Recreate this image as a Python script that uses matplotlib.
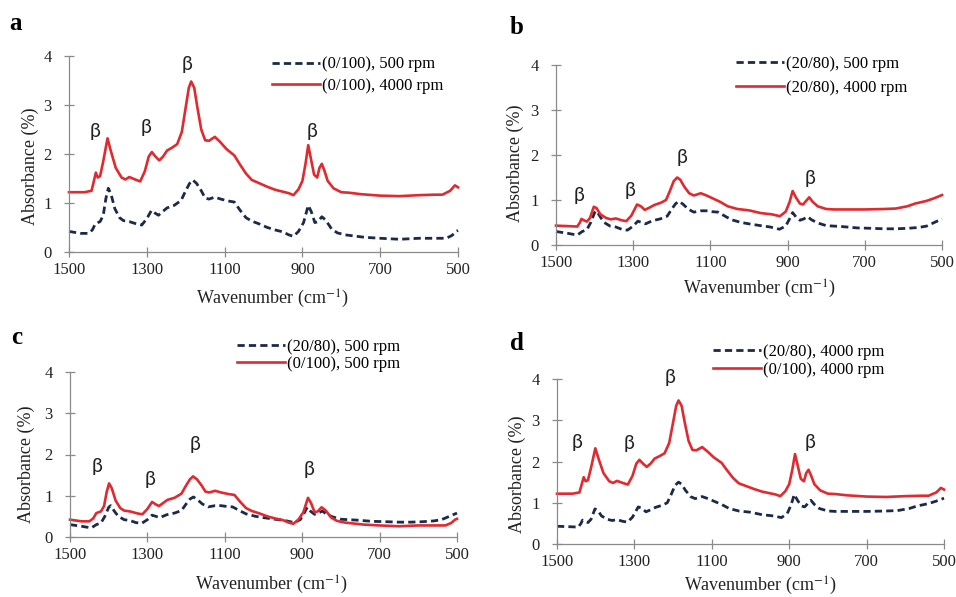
import matplotlib
matplotlib.use("Agg")
import matplotlib.pyplot as plt

plt.rcParams['font.family'] = ['Liberation Serif', 'DejaVu Serif']
plt.rcParams['mathtext.fontset'] = 'stix'

# ---------------- data ----------------
# (0/100), 4000 rpm
wn_p100_4000 = [1500, 1460, 1442, 1436, 1431, 1426, 1420, 1412, 1401, 1392, 1380, 1365, 1355, 1345,
                1330, 1317, 1305, 1295, 1287, 1278, 1268, 1258, 1248, 1235, 1222, 1210, 1200, 1192,
                1186, 1178, 1170, 1160, 1150, 1140, 1125, 1112, 1095, 1075, 1060, 1045, 1030, 1010,
                990, 970, 950, 935, 923, 910, 900, 892, 885, 878, 870, 862, 856, 850, 843, 835, 820,
                800, 780, 750, 700, 650, 600, 560, 540, 520, 508, 500]
ab_p100_4000 = [1.22, 1.22, 1.25, 1.45, 1.62, 1.52, 1.55, 1.85, 2.32, 2.05, 1.72, 1.52, 1.48, 1.53,
                1.48, 1.44, 1.65, 1.95, 2.04, 1.95, 1.87, 1.95, 2.07, 2.13, 2.20, 2.45, 2.95, 3.35,
                3.48, 3.35, 2.95, 2.50, 2.28, 2.27, 2.35, 2.25, 2.10, 1.97, 1.78, 1.60, 1.47, 1.40,
                1.33, 1.27, 1.23, 1.20, 1.16, 1.28, 1.45, 1.80, 2.18, 1.90, 1.58, 1.52, 1.72, 1.80,
                1.65, 1.45, 1.30, 1.22, 1.21, 1.18, 1.15, 1.14, 1.16, 1.17, 1.17, 1.25, 1.36, 1.32]

# (0/100), 500 rpm
wn_p100_500 = [1500, 1470, 1450, 1440, 1432, 1420, 1412, 1405, 1399, 1392, 1382, 1370, 1360, 1345,
               1325, 1313, 1300, 1288, 1280, 1270, 1260, 1248, 1230, 1212, 1200, 1190, 1182, 1172,
               1160, 1150, 1140, 1125, 1110, 1090, 1075, 1060, 1045, 1030, 1010, 990, 970, 950, 935,
               923, 910, 897, 885, 877, 868, 860, 850, 840, 825, 810, 790, 770, 740, 700, 650, 600,
               550, 530, 515, 505, 500]
ab_p100_500 = [0.42, 0.38, 0.38, 0.45, 0.58, 0.62, 0.75, 1.10, 1.30, 1.18, 0.88, 0.70, 0.64, 0.62,
               0.57, 0.55, 0.68, 0.85, 0.80, 0.75, 0.82, 0.90, 0.95, 1.05, 1.25, 1.40, 1.47, 1.40,
               1.25, 1.10, 1.08, 1.12, 1.08, 1.04, 1.02, 0.85, 0.70, 0.63, 0.57, 0.50, 0.45, 0.41, 0.35,
               0.32, 0.42, 0.60, 0.95, 0.82, 0.60, 0.62, 0.72, 0.65, 0.47, 0.39, 0.35, 0.33, 0.30, 0.28,
               0.26, 0.28, 0.28, 0.28, 0.34, 0.42, 0.44]

# (20/80), 4000 rpm
wn_p80_4000 = [1500, 1470, 1445, 1438, 1434, 1428, 1420, 1412, 1402, 1395, 1385, 1370, 1358, 1345,
               1330, 1318, 1305, 1290, 1280, 1270, 1258, 1245, 1228, 1215, 1205, 1195, 1186, 1178,
               1168, 1155, 1143, 1125, 1110, 1095, 1075, 1055, 1030, 1000, 970, 940, 920, 905, 895,
               887, 878, 868, 860, 850, 844, 835, 822, 800, 780, 740, 700, 650, 620, 590, 570, 540,
               520, 500]
ab_p80_4000 = [0.43, 0.42, 0.41, 0.50, 0.58, 0.55, 0.52, 0.60, 0.85, 0.82, 0.68, 0.60, 0.57, 0.59,
               0.55, 0.53, 0.65, 0.90, 0.86, 0.78, 0.83, 0.89, 0.94, 1.00, 1.20, 1.42, 1.50, 1.45,
               1.30, 1.15, 1.10, 1.15, 1.10, 1.04, 0.96, 0.86, 0.80, 0.77, 0.71, 0.68, 0.64, 0.74, 0.95,
               1.20, 1.05, 0.92, 0.90, 1.00, 1.06, 0.96, 0.86, 0.80, 0.79, 0.79, 0.79, 0.80, 0.81, 0.86,
               0.92, 0.98, 1.04, 1.11]

# (20/80), 500 rpm
wn_p80_500 = [1500, 1470, 1445, 1432, 1420, 1410, 1400, 1395, 1385, 1375, 1360, 1345, 1330, 1315,
              1300, 1288, 1278, 1268, 1250, 1230, 1212, 1200, 1190, 1181, 1170, 1158, 1143, 1125,
              1110, 1095, 1080, 1060, 1045, 1020, 1000, 970, 945, 921, 905, 895, 887, 878, 868, 858,
              848, 838, 822, 800, 760, 720, 680, 650, 620, 590, 560, 540, 520, 500]
ab_p80_500 = [0.30, 0.26, 0.22, 0.30, 0.34, 0.50, 0.72, 0.76, 0.62, 0.50, 0.42, 0.40, 0.35, 0.33,
              0.42, 0.53, 0.50, 0.47, 0.54, 0.58, 0.64, 0.80, 0.92, 0.97, 0.90, 0.80, 0.73, 0.76,
              0.76, 0.74, 0.73, 0.63, 0.56, 0.50, 0.47, 0.43, 0.40, 0.35, 0.42, 0.58, 0.72, 0.62, 0.55,
              0.58, 0.63, 0.56, 0.49, 0.43, 0.41, 0.38, 0.37, 0.36, 0.36, 0.37, 0.39, 0.42, 0.50, 0.58]

x_ticks = [1500, 1300, 1100, 900, 700, 500]
y_ticks = [0, 1, 2, 3, 4]

series = {
    'p100_4000': (wn_p100_4000, ab_p100_4000),
    'p100_500': (wn_p100_500, ab_p100_500),
    'p80_4000': (wn_p80_4000, ab_p80_4000),
    'p80_500': (wn_p80_500, ab_p80_500),
}

panels = [
    dict(letter='a', dashed=('p100_500', '(0/100), 500 rpm'), solid=('p100_4000', '(0/100), 4000 rpm'),
         rect_px=(69, 56, 458, 252), letter_px=(15, 24), leg_px=(272, 56.5), legsp=0.3,
         ylab=(-0.077, 0.44), xlab=(0.524, -0.184),
         betas=[(1433, 2.45), (1303, 2.55), (1197, 3.82), (874, 2.45)]),
    dict(letter='b', dashed=('p80_500', '(20/80), 500 rpm'), solid=('p80_4000', '(20/80), 4000 rpm'),
         rect_px=(556, 65, 942, 245), letter_px=(517, 28), leg_px=(736, 56), legsp=0.45,
         ylab=(-0.083, 0.455), xlab=(0.528, -0.183),
         betas=[(1440, 1.11), (1308, 1.21), (1174, 1.95), (842, 1.47)]),
    dict(letter='c', dashed=('p80_500', '(20/80), 500 rpm'), solid=('p100_500', '(0/100), 500 rpm'),
         rect_px=(70, 372, 457, 537), letter_px=(17, 338), leg_px=(237, 339), legsp=0.05,
         ylab=(-0.09, 0.44), xlab=(0.52, -0.225),
         betas=[(1431, 1.71), (1293, 1.39), (1178, 2.24), (881, 1.63)]),
    dict(letter='d', dashed=('p80_4000', '(20/80), 4000 rpm'), solid=('p100_4000', '(0/100), 4000 rpm'),
         rect_px=(557, 379, 944, 544), letter_px=(517, 343), leg_px=(713, 344), legsp=0.1,
         ylab=(-0.08, 0.42), xlab=(0.525, -0.185),
         betas=[(1447, 2.46), (1314, 2.43), (1208, 4.04), (845, 2.46)]),
]

W, H = 956, 597
fig = plt.figure(figsize=(W / 100, H / 100), dpi=100)

RED = '#e02a2f'
NAVY = '#1b2a4a'
AXC = '#8a8a8a'

for p in panels:
    x0, y0, x1, y1 = p['rect_px']
    ax = fig.add_axes([x0 / W, 1 - y1 / H, (x1 - x0) / W, (y1 - y0) / H])
    dk, dl = p['dashed']
    sk, sl = p['solid']
    ax.plot(*series[dk], color=NAVY, lw=2.0, linestyle=(0, (2.6, 1.5)), label=dl, clip_on=False)
    ax.plot(*series[sk], color=RED, lw=1.9, label=sl, clip_on=False)
    ax.set_xlim(1500, 500)
    ax.set_ylim(0, 4)
    ax.set_xticks(x_ticks)
    ax.set_yticks(y_ticks)
    for s in ['top', 'right']:
        ax.spines[s].set_visible(False)
    for s in ['left', 'bottom']:
        ax.spines[s].set_color(AXC)
        ax.spines[s].set_linewidth(0.9)
    ax.tick_params(axis='both', direction='inout', length=7, width=0.9, color=AXC,
                   labelsize=12, labelcolor='#222222')
    ax.tick_params(axis='y', pad=9)
    ax.tick_params(axis='x', pad=4)
    ax.set_ylabel('Absorbance (%)', fontsize=13, color='#222222')
    ax.set_xlabel('Wavenumber (cm$^{-1}$)', fontsize=13, color='#222222')
    ax.yaxis.set_label_coords(*p['ylab'])
    ax.xaxis.set_label_coords(*p['xlab'])
    for bx, by in p['betas']:
        ax.text(bx, by, 'β', fontsize=14, family=['Lato', 'DejaVu Sans'], color='#222222',
                ha='center', va='center')
    lx, ly = p['leg_px']
    ax.legend(loc='upper left', bbox_to_anchor=(lx / W, 1 - ly / H), bbox_transform=fig.transFigure,
              frameon=False, fontsize=12, handlelength=2.9, handletextpad=0.1,
              borderpad=0, borderaxespad=0, labelspacing=p['legsp'])
    fig.text(p['letter_px'][0] / W, 1 - p['letter_px'][1] / H, p['letter'], fontsize=18,
             fontweight='bold', ha='center', va='center')

fig.savefig('out.png', dpi=100)
